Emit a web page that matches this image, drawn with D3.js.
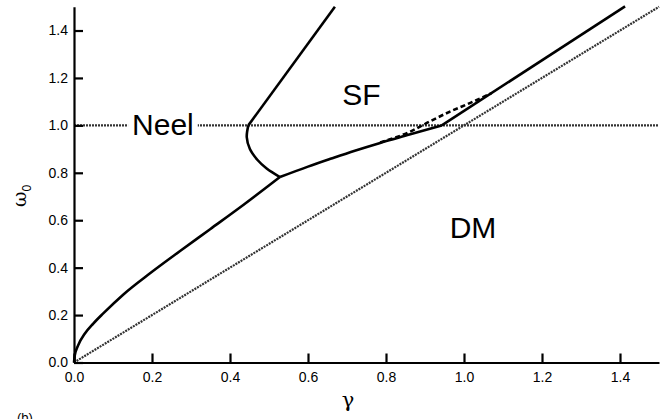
<!DOCTYPE html>
<html>
<head>
<meta charset="utf-8">
<script src="https://cdn.jsdelivr.net/npm/d3@7"></script>
<style>
  body { margin: 0; background: #fff; }
  svg { display: block; font-family: "Liberation Sans", Arial, sans-serif; }
</style>
</head>
<body>
<svg id="chart" width="666" height="419"></svg>
<script>
'use strict';

// tick values
const xTicks = [0, 0.2, 0.4, 0.6, 0.8, 1.0, 1.2, 1.4];
const yTicks = [0, 0.2, 0.4, 0.6, 0.8, 1.0, 1.2, 1.4];

// boundary from origin up to the triple point
const lowerGamma = [0, 0.002, 0.01, 0.028, 0.05, 0.075, 0.126, 0.195, 0.272, 0.349, 0.434, 0.528];
const lowerOmega = [0, 0.03, 0.07, 0.122, 0.165, 0.207, 0.286, 0.376, 0.47, 0.562, 0.664, 0.782];

// Neel / SF boundary
const neelGamma = [0.528, 0.494, 0.47, 0.451, 0.443, 0.447];
const neelOmega = [0.782, 0.818, 0.855, 0.90, 0.95, 1.0];
const neelUpGamma = [0.447, 0.669];
const neelUpOmega = [1.0, 1.5];

// SF / DM boundary (solid)
const sfGamma = [0.528, 0.60, 0.66, 0.72, 0.785, 0.86, 0.943];
const sfOmega = [0.782, 0.826, 0.86, 0.893, 0.926, 0.961, 1.0];
const sfUpGamma = [0.943, 1.413];
const sfUpOmega = [1.0, 1.502];

// dashed branch
const dashGamma = [0.785, 0.86, 0.913, 0.964, 1.015, 1.07];
const dashOmega = [0.928, 0.972, 1.017, 1.058, 1.094, 1.135];

// dotted guides
const diagGamma = [0, 1.5];
const diagOmega = [0, 1.5];
const flatGamma = [0, 1.5];
const flatOmega = [1.0, 1.0];

const regions = [
  {text: "Neel", g: 0.228, w: 1.005},
  {text: "SF", g: 0.737, w: 1.131},
  {text: "DM", g: 1.023, w: 0.569}
];

const svg = d3.select("#chart");

const x = d3.scaleLinear().domain([0, 1.5]).range([74, 659]);
const y = d3.scaleLinear().domain([0, 1.5]).range([362.5, 6.8]);

const zip = (a, b) => a.map((v, i) => [v, b[i]]);

const line = d3.line()
  .x(d => x(d[0]))
  .y(d => y(d[1]));
const smooth = d3.line()
  .x(d => x(d[0]))
  .y(d => y(d[1]))
  .curve(d3.curveCatmullRom);
const mono = d3.line()
  .x(d => x(d[0]))
  .y(d => y(d[1]))
  .curve(d3.curveMonotoneX);

// dotted guides
function dotted(data) {
  svg.append("path")
    .attr("d", line(data))
    .attr("fill", "none")
    .attr("stroke", "#333")
    .attr("stroke-width", 2.2)
    .attr("stroke-dasharray", "2,1");
}
dotted(zip(flatGamma, flatOmega));
dotted(zip(diagGamma, diagOmega));

// solid boundaries
function solid(data, gen) {
  svg.append("path")
    .attr("d", gen(data))
    .attr("fill", "none")
    .attr("stroke", "#000")
    .attr("stroke-width", 2.6)
    .attr("stroke-linejoin", "round");
}
solid(zip(lowerGamma, lowerOmega), mono);
solid(zip(neelGamma, neelOmega), smooth);
solid(zip(neelUpGamma, neelUpOmega), line);
solid(zip(sfGamma, sfOmega), mono);
solid(zip(sfUpGamma, sfUpOmega), line);

svg.append("path")
  .attr("d", mono(zip(dashGamma, dashOmega)))
  .attr("fill", "none")
  .attr("stroke", "#000")
  .attr("stroke-width", 2.6)
  .attr("stroke-dasharray", "5,3");

// region labels
regions.forEach(r => {
  const t = svg.append("text")
    .attr("x", x(r.g))
    .attr("y", y(r.w))
    .attr("dy", "0.36em")
    .attr("text-anchor", "middle")
    .attr("font-size", 30)
    .text(r.text);
  if (r.text === "Neel") {
    const bb = t.node().getBBox();
    svg.insert("rect", "text")
      .attr("x", bb.x - 4)
      .attr("y", bb.y)
      .attr("width", bb.width + 8)
      .attr("height", bb.height)
      .attr("fill", "#fff");
  }
});

// axes
const xAxis = svg.append("g")
  .attr("transform", `translate(0,${y(0)})`)
  .call(d3.axisBottom(x)
    .tickValues(xTicks)
    .tickFormat(d3.format(".1f"))
    .tickSizeInner(-9)
    .tickSizeOuter(0)
    .tickPadding(10));

const yAxis = svg.append("g")
  .attr("transform", `translate(${x(0)},0)`)
  .call(d3.axisLeft(y)
    .tickValues(yTicks)
    .tickFormat(d3.format(".1f"))
    .tickSizeInner(-9)
    .tickSizeOuter(0)
    .tickPadding(6));

[xAxis, yAxis].forEach(a => {
  a.select(".domain").attr("stroke", "#000").attr("stroke-width", 2.2);
  a.selectAll(".tick line").attr("stroke", "#000").attr("stroke-width", 2.2);
  a.selectAll(".tick text")
    .attr("fill", "#000")
    .attr("font-size", 14)
    .attr("font-family", "\"Liberation Sans\", Arial, sans-serif");
});

// axis titles
svg.append("text")
  .attr("x", 348)
  .attr("y", 407)
  .attr("text-anchor", "middle")
  .attr("font-size", 21)
  .attr("font-family", "\"DejaVu Serif\", serif")
  .text("γ");

const yTitle = svg.append("text")
  .attr("transform", "translate(26,196) rotate(-90)")
  .attr("text-anchor", "middle")
  .attr("font-size", 19)
  .attr("font-family", "\"DejaVu Serif\", serif");
yTitle.append("tspan").text("ω");
yTitle.append("tspan")
  .attr("font-size", 12)
  .attr("dy", 5)
  .attr("font-family", "\"Liberation Sans\", Arial, sans-serif")
  .text("0");

svg.append("text")
  .attr("x", 17)
  .attr("y", 422)
  .attr("font-size", 13)
  .text("(b)");
</script>
</body>
</html>
